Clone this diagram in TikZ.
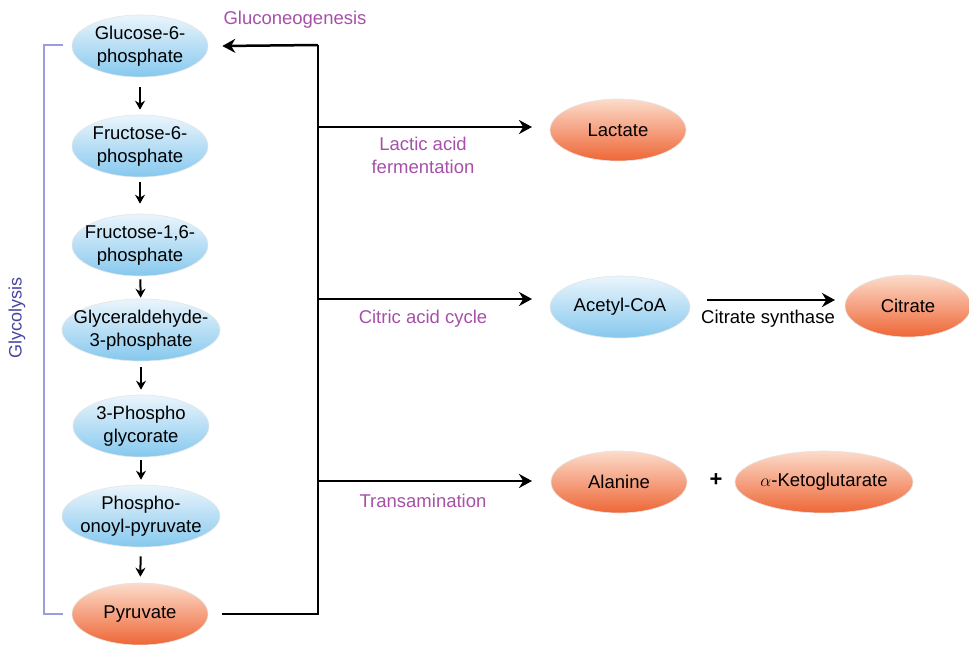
\documentclass[tikz,border=0pt]{standalone}
\usepackage{fontspec}
\setmainfont{Liberation Sans}
\usetikzlibrary{arrows.meta,shapes.geometric}
\definecolor{bluetop}{HTML}{EAF5FC}
\definecolor{bluebot}{HTML}{86C8EE}
\definecolor{orgtop}{HTML}{FCDCCB}
\definecolor{orgbot}{HTML}{EE6636}
\definecolor{labpurple}{HTML}{A650A8}
\definecolor{glyblue}{HTML}{4646A0}
\definecolor{brackblue}{HTML}{9C9CE0}
\tikzset{
  txt/.style={align=center, font=\fontsize{18.5}{23}\selectfont},
  ell/.style={ellipse, inner sep=0pt, minimum height=62pt, minimum width=136pt,
    draw=black!10, line width=0.6pt},
  bell/.style={ell, top color=bluetop, bottom color=bluebot},
  oell/.style={ell, top color=orgtop, bottom color=orgbot},
  lab/.style={txt, text=labpurple},
  blab/.style={txt, text=black},
  varrow/.style={line width=2pt, -{Stealth[length=9pt,width=10pt]}},
  harrow/.style={line width=2.5pt, -{Stealth[length=13pt,width=14pt]}},
  mainline/.style={line width=2.5pt}
}
\begin{document}
\begin{tikzpicture}[x=1pt,y=-1pt]
\useasboundingbox (0,0) rectangle (969,645);
% left column
\node[bell, label={[txt]center:Glucose-6-\\phosphate}] (g6p) at (140,46) {};
\node[bell, label={[txt]center:Fructose-6-\\phosphate}] (f6p) at (140,146) {};
\node[bell, label={[txt]center:{Fructose-1,6-\\phosphate}}] (f16p) at (140,245) {};
\node[bell, minimum width=158pt, label={[txt]center:Glyceraldehyde-\\3-phosphate}] (g3p) at (141,330) {};
\node[bell, label={[txt]center:3-Phospho\\glycorate}] (pg) at (141,426) {};
\node[bell, minimum width=158pt, label={[txt]center:Phospho-\\onoyl-pyruvate}] (pep) at (141,516) {};
\node[oell, label={[txt]center:Pyruvate}] (pyr) at (140,614) {};
% vertical arrows
\draw[varrow, shorten <=10pt, shorten >=5pt] (g6p) -- (f6p);
\draw[varrow, shorten <=5pt, shorten >=10pt] (f6p) -- (f16p);
\draw[varrow, shorten <=3pt, shorten >=1pt] (f16p) -- (g3p);
\draw[varrow, shorten <=6pt, shorten >=5pt] (g3p) -- (pg);
\draw[varrow, shorten <=3pt, shorten >=5pt] (pg) -- (pep);
\draw[varrow, shorten <=9pt, shorten >=6pt] (pep) -- (pyr);
% glycolysis bracket
\coordinate (bt) at (44,45);
\coordinate (bb) at (44,614);
\draw[brackblue, line width=2pt] (63,45) -- (bt) -- (bb) -- (63,614);
\node[rotate=90, text=glyblue, font=\fontsize{18}{20}\selectfont] (glyc) at (17,318) {Glycolysis};
% right-hand loop
\coordinate (ct) at (318,45);
\coordinate (cb) at (318,614);
\draw[mainline] ([xshift=14pt]pyr.east) -- (cb) -- (ct);
\draw[harrow] (ct) -- ([xshift=14pt]g6p.east);
\node[lab] (glucn) at (295,20) {Gluconeogenesis};
% right nodes
\node[oell, label={[txt]center:Lactate}] (lac) at (618,130) {};
\node[bell, minimum width=140pt, label={[txt]center:Acetyl-CoA}] (acoa) at (620,307) {};
\node[oell, minimum width=126pt, label={[txt]center:Citrate}] (cit) at (908,306) {};
\node[oell, label={[txt]center:Alanine}] (ala) at (619,482) {};
\node[oell, minimum width=178pt, label={[txt]center:$\alpha$-Ketoglutarate}] (akg) at (824,482) {};
% branches
\coordinate (b1) at (318,127);
\coordinate (e1) at (532,127);
\coordinate (b2) at (318,299);
\coordinate (e2) at (532,299);
\coordinate (b3) at (318,481);
\coordinate (e3) at (532,481);
\draw[harrow] (b1) -- (e1);
\draw[harrow] (b2) -- (e2);
\draw[harrow] (b3) -- (e3);
\node[lab] (llac) at (423,155) {Lactic acid\\fermentation};
\node[lab] (lcit) at (423,319) {Citric acid cycle};
\node[lab] (ltra) at (423,501) {Transamination};
% acetyl -> citrate
\coordinate (a1) at (707,300);
\coordinate (a2) at (835,300);
\draw[harrow] (a1) -- (a2);
\node[blab] (csyn) at (768,319) {Citrate synthase};
\node[font=\fontsize{22}{22}\selectfont\bfseries] (plus) at (716,480) {+};
\end{tikzpicture}
\end{document}
